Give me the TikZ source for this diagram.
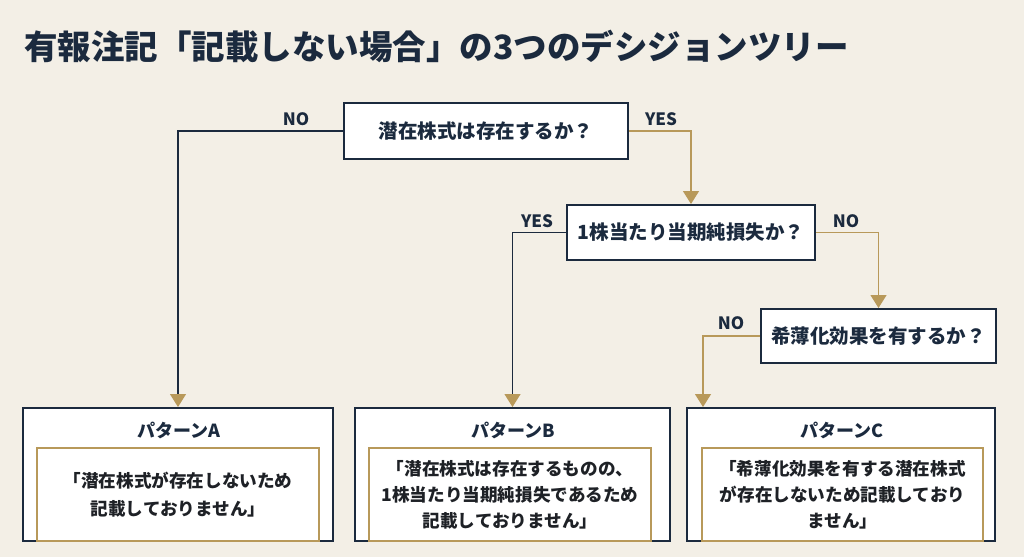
\documentclass[tikz,border=0pt]{standalone}
\usepackage{fontspec}
\setmainfont{Noto Sans CJK JP}
\usetikzlibrary{arrows.meta}
\definecolor{navy}{HTML}{1B2A3E}
\definecolor{gold}{HTML}{B8995A}
\definecolor{bg}{HTML}{F3EFE6}
\definecolor{ink}{HTML}{1E2126}
\begin{document}
\begin{tikzpicture}[x=1pt,y=-1pt,
  qbox/.style={draw=navy, line width=2pt, fill=white, inner sep=0pt,
    font=\fontsize{19.5}{23}\selectfont\bfseries, text=navy},
  outbox/.style={draw=navy, line width=2pt, fill=white, inner sep=0pt,
    minimum width=#1, minimum height=133pt},
  inbox/.style={draw=gold, line width=2pt, fill=white, inner sep=0pt,
    minimum width=282pt, minimum height=93pt, align=center, text=ink},
  ptitle/.style={font=\fontsize{18}{22}\selectfont\bfseries, text=navy, inner sep=0pt},
  lbl/.style={font=\fontsize{17}{20}\selectfont\bfseries, text=navy, inner sep=0pt},
  tipg/.style={-{Triangle[width=16pt,length=13pt,color=gold]}},
  navyline/.style={draw=navy, line width=1.2pt, tipg},
  goldline/.style={draw=gold, line width=1.2pt, tipg}
]
\fill[bg] (0,0) rectangle (1024,557);
\useasboundingbox (0,0) rectangle (1024,557);

\node[anchor=west, inner sep=0pt, font=\fontsize{33.5}{40}\selectfont\bfseries, text=navy] (title) at (24,46)
  {有報注記「記載しない場合」の3つのデシジョンツリー};

% questions
\node[qbox, minimum width=284pt, minimum height=56pt] (q1) at (486,131) {潜在株式は存在するか？};
\node[qbox, minimum width=248pt, minimum height=55pt] (q2) at (691,232.5) {1株当たり当期純損失か？};
\node[qbox, minimum width=235pt, minimum height=54pt] (q3) at (878.5,336) {希薄化効果を有するか？};

% patterns
\node[outbox=310pt] (pA) at (178,474.5) {};
\node[outbox=315pt] (pB) at (512.5,474.5) {};
\node[outbox=308pt] (pC) at (841,474.5) {};

\node[inbox, font=\fontsize{17.6}{27.5}\selectfont\bfseries] (iA) at (178,494.5)
  {「潜在株式が存在しないため\\記載しておりません」};
\node[inbox, font=\fontsize{17.6}{25.8}\selectfont\bfseries] (iB) at (510,494.5)
  {「潜在株式は存在するものの、\\1株当たり当期純損失であるため\\記載しておりません」};
\node[inbox, minimum width=281pt, font=\fontsize{17.6}{25.8}\selectfont\bfseries] (iC) at (842.5,494.5)
  {「希薄化効果を有する潜在株式\\が存在しないため記載しており\\ません」};

\node[ptitle] (tA) at (179,430) {パターンA};
\node[ptitle] (tB) at (513,430) {パターンB};
\node[ptitle] (tC) at (842,430) {パターンC};

% connectors
\coordinate (cIn) at ([xshift=17pt]pC.north west);
\draw[navyline] (q1.west) -| (pA.north);
\draw[goldline] (q1.east) -| (q2.north);
\draw[navyline] (q2.west) -| (pB.north);
\draw[goldline] (q2.east) -| (q3.north);
\draw[goldline] (q3.west) -| (cIn);

% labels
\node[lbl] (l1) at (296,119) {NO};
\node[lbl] (l2) at (661,119) {YES};
\node[lbl] (l3) at (537,221) {YES};
\node[lbl] (l4) at (846,221) {NO};
\node[lbl] (l5) at (731,323) {NO};
\end{tikzpicture}
\end{document}
